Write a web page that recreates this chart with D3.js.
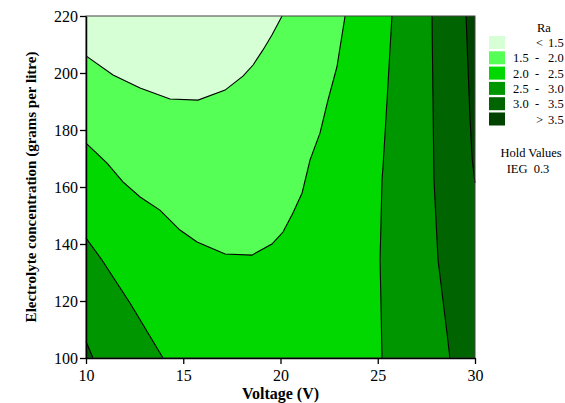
<!DOCTYPE html>
<html>
<head>
<meta charset="utf-8">
<script src="https://cdn.jsdelivr.net/npm/d3@7"></script>
<style>
  body { margin: 0; background: #fff; }
  svg { font-family: "Liberation Serif", "Times New Roman", serif; }
</style>
</head>
<body>
<div id="chart"></div>
<script>
// contour lines, as [voltage, concentration]
let line15 = [[10, 206], [11.39, 199.3], [12.78, 194.7], [14.32, 190.9], [15.76, 190.5],
    [17.15, 194.0], [18.07, 198.9], [18.59, 202.8], [19.10, 208.1], [19.56, 213.3], [20.08, 220]];
let line20 = [[10, 175.4], [11.08, 168.4], [11.90, 161.8], [12.78, 156.5], [13.80, 151.9],
    [14.83, 144.9], [15.71, 140.7], [17.15, 136.5], [18.53, 136.1], [19.56, 140.0], [20.13, 144.2],
    [20.64, 150.9], [21.11, 157.9], [21.52, 169.5], [22.03, 178.9], [22.44, 190.5], [22.90, 202.1], [23.32, 220]];
let line25L = [[10, 142.1], [10.82, 134.4], [11.59, 126.3], [12.26, 119.3], [12.88, 112.3], [13.96, 100]];
let line30L = [[10, 105.8], [10.36, 100]];
let line25R = [[25.73, 220], [25.48, 190.5], [25.27, 167.0], [25.22, 162.5], [25.12, 134.4], [25.22, 100]];
let line30R = [[27.79, 220], [27.84, 190.5], [27.89, 162.5], [28.10, 134.4], [28.56, 108.8], [28.71, 100]];
let line35R = [[29.54, 220], [29.64, 202.1], [29.74, 184.6], [29.85, 170], [30, 161.4]];

// legend levels: [low, high], null = open end
let levelLow = [null, "1.5", "2.0", "2.5", "3.0", null];
let levelHigh = ["1.5", "2.0", "2.5", "3.0", "3.5", "3.5"];
let levelSign = ["<", "-", "-", "-", "-", ">"];
let colors = ["#d6ffd6", "#55ff55", "#00d800", "#009600", "#006400", "#004200"];
let xTicks = [10, 15, 20, 25, 30];
let yTicks = [100, 120, 140, 160, 180, 200, 220];

let width = 565, height = 403;
let plotL = 86, plotR = 475, plotT = 16, plotB = 358;

let x = d3.scaleLinear().domain([10, 30]).range([plotL, plotR]);
let y = d3.scaleLinear().domain([100, 220]).range([plotB, plotT]);
let line = d3.line().x(d => x(d[0])).y(d => y(d[1]));

let svg = d3.select("#chart").append("svg")
    .attr("width", width)
    .attr("height", height);

//background band (2.0 - 2.5)
svg.append("rect")
    .attr("x", plotL).attr("y", plotT)
    .attr("width", plotR - plotL).attr("height", plotB - plotT)
    .attr("fill", colors[2]);

//filled bands, painted one over the other
let bands = [
    [line20.concat([[10, 220]]), 1],
    [line15.concat([[10, 220]]), 0],
    [line25L.concat([[10, 100]]), 3],
    [line30L.concat([[10, 100]]), 4],
    [line25R.concat([[30, 100], [30, 220]]), 3],
    [line30R.concat([[30, 100], [30, 220]]), 4],
    [line35R.concat([[30, 220]]), 5]
];
svg.selectAll("path.band")
    .data(bands)
    .enter()
    .append("path")
    .attr("class", "band")
    .attr("d", d => line(d[0]) + "Z")
    .attr("fill", d => colors[d[1]]);

//contour lines
svg.selectAll("path.contour")
    .data([line15, line20, line25L, line30L, line25R, line30R, line35R])
    .enter()
    .append("path")
    .attr("class", "contour")
    .attr("d", line)
    .attr("fill", "none")
    .attr("stroke", "#000")
    .attr("stroke-width", 1.1);

//frame
svg.append("rect")
    .attr("x", plotL).attr("y", plotT)
    .attr("width", plotR - plotL).attr("height", plotB - plotT)
    .attr("fill", "none")
    .attr("stroke", "#444")
    .attr("stroke-width", 1);

//axes
let xAxis = svg.append("g")
    .attr("transform", `translate(0,${plotB})`)
    .call(d3.axisBottom(x).tickValues(xTicks).tickSize(6).tickSizeOuter(0));
let yAxis = svg.append("g")
    .attr("transform", `translate(${plotL},0)`)
    .call(d3.axisLeft(y).tickValues(yTicks).tickSize(6).tickSizeOuter(0));
[xAxis, yAxis].forEach(a => {
    a.select(".domain").attr("stroke", "#000").attr("stroke-width", 1.5);
    a.selectAll(".tick line").attr("stroke", "#000").attr("stroke-width", 1.3);
    a.selectAll("text")
        .attr("fill", "#000")
        .style("font-family", "Liberation Serif, serif")
        .style("font-size", "16px");
});
xAxis.selectAll("text").attr("dy", "0.9em");
yAxis.selectAll("text").attr("x", -8);

//axis titles
svg.append("text")
    .attr("x", (plotL + plotR) / 2)
    .attr("y", 399)
    .attr("text-anchor", "middle")
    .style("font-size", "16px")
    .style("font-weight", "bold")
    .text("Voltage (V)");
svg.append("text")
    .attr("transform", `translate(36,${(plotT + plotB) / 2}) rotate(-90)`)
    .attr("text-anchor", "middle")
    .style("font-size", "15px")
    .style("font-weight", "bold")
    .text("Electrolyte concentration (grams per litre)");

//legend
let legend = svg.append("g").style("font-size", "12.5px");
legend.append("text")
    .attr("x", 537).attr("y", 32)
    .text("Ra");
let rows = legend.selectAll("g.row")
    .data(colors)
    .enter()
    .append("g")
    .attr("class", "row")
    .attr("transform", (d, i) => `translate(489,${36 + i * 15.3})`);
rows.append("rect")
    .attr("width", 16).attr("height", 13)
    .attr("fill", d => d);
rows.append("text")
    .attr("x", 24).attr("y", 11)
    .text((d, i) => levelLow[i] || "");
rows.append("text")
    .attr("x", (d, i) => levelSign[i] === "-" ? 46 : 47).attr("y", 11)
    .text((d, i) => levelSign[i]);
rows.append("text")
    .attr("x", 59).attr("y", 11)
    .text((d, i) => levelHigh[i]);

legend.append("text")
    .attr("x", 531).attr("y", 157)
    .attr("text-anchor", "middle")
    .text("Hold Values");
legend.append("text")
    .attr("x", 528).attr("y", 173)
    .attr("text-anchor", "middle")
    .attr("xml:space", "preserve")
    .text("IEG  0.3");
</script>
</body>
</html>
